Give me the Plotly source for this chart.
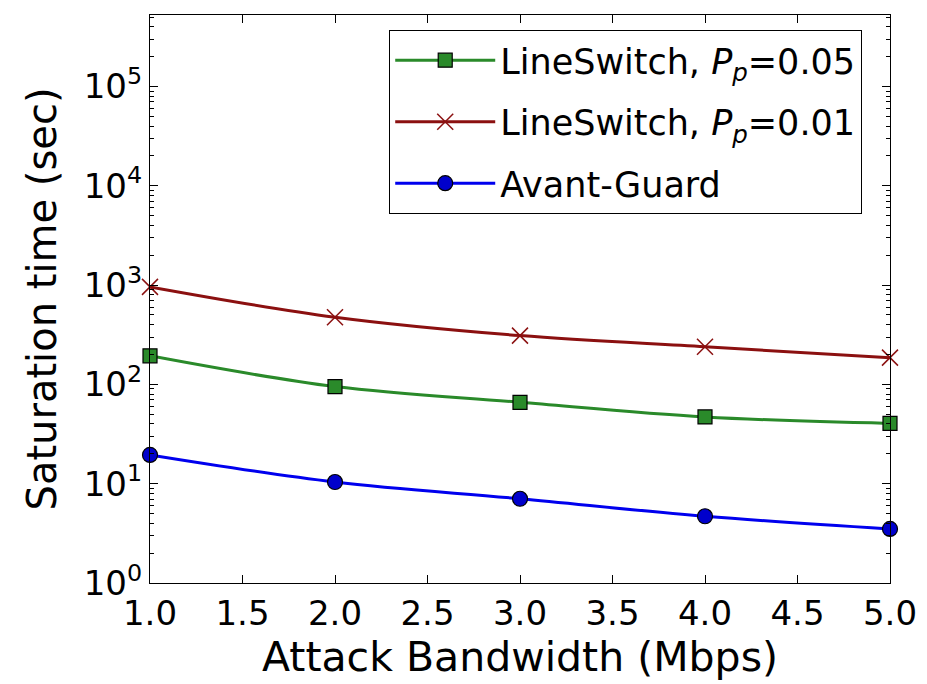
import plotly.graph_objects as go

bandwidth = [1.0, 2.0, 3.0, 4.0, 5.0]
ls_005 = [194, 95, 66, 47, 40.5]
ls_001 = [960, 475, 310, 239, 186]
avant = [19.5, 10.4, 7.05, 4.7, 3.5]

x_ticks = [1.0, 1.5, 2.0, 2.5, 3.0, 3.5, 4.0, 4.5, 5.0]
x_ticklabels = ["1.0", "1.5", "2.0", "2.5", "3.0", "3.5", "4.0", "4.5", "5.0"]
y_ticks = [1, 10, 100, 1000, 10000, 100000]
y_ticklabels = ["10<sup>0</sup>", "10<sup>1</sup>", "10<sup>2</sup>", "10<sup>3</sup>", "10<sup>4</sup>", "10<sup>5</sup>"]

FONT = "DejaVu Sans"

fig = go.Figure()
fig.add_trace(go.Scatter(
    x=bandwidth, y=ls_005, mode="lines+markers",
    name="LineSwitch, <i>P<sub>p</sub></i>=0.05", legendgroup="a",
    line=dict(color="#2a8a2a", width=3, shape="spline"),
    marker=dict(symbol="square", size=14, color="#2a8a2a", line=dict(color="black", width=1.2)),
    cliponaxis=False,
))
fig.add_trace(go.Scatter(
    x=bandwidth, y=ls_001, mode="lines+markers",
    name="LineSwitch, <i>P<sub>p</sub></i>=0.01", legendgroup="b",
    line=dict(color="#8b1010", width=3, shape="spline"),
    marker=dict(symbol="x-thin", size=16, color="#8b1010", line=dict(color="#8b1010", width=1.5)),
    cliponaxis=False,
))
fig.add_trace(go.Scatter(
    x=bandwidth, y=avant, mode="lines+markers",
    name="Avant-Guard", legendgroup="c",
    line=dict(color="#0000ee", width=3, shape="spline"),
    marker=dict(symbol="circle", size=15, color="#0000cc", line=dict(color="black", width=1.2)),
    cliponaxis=False,
))

fig.update_layout(
    width=919, height=676,
    margin=dict(l=142, r=37, t=7, b=101),
    paper_bgcolor="white", plot_bgcolor="white",
    font=dict(family=FONT, size=34, color="black"),
    legend=dict(
        x=0.323, y=0.974, xanchor="left", yanchor="top",
        bordercolor="black", borderwidth=1.2, bgcolor="white",
        font=dict(family=FONT, size=35, color="black"),
        itemwidth=100, traceorder="grouped", tracegroupgap=13,
    ),
    showlegend=True,
)
fig.update_xaxes(
    range=[1.0, 5.0], tickvals=x_ticks, ticktext=x_ticklabels,
    ticks="inside", ticklen=8, tickwidth=1, tickcolor="black",
    showline=True, linecolor="black", linewidth=1.2, mirror="ticks",
    showgrid=False, zeroline=False,
    tickfont=dict(family=FONT, size=34),
    title=dict(text="Attack Bandwidth (Mbps)", font=dict(family=FONT, size=41), standoff=4),
)
fig.update_yaxes(
    type="log", range=[0, 5.72], tickvals=y_ticks, ticktext=y_ticklabels,
    ticks="inside", ticklen=8, tickwidth=1, tickcolor="black",
    showline=True, linecolor="black", linewidth=1.2, mirror="ticks",
    showgrid=False, zeroline=False,
    minor=dict(ticks="inside", ticklen=4, tickcolor="black", dtick="D1", showgrid=False),
    tickfont=dict(family=FONT, size=34),
    title=dict(text="Saturation time (sec)", font=dict(family=FONT, size=40), standoff=14),
)

fig.write_html("out.html")
